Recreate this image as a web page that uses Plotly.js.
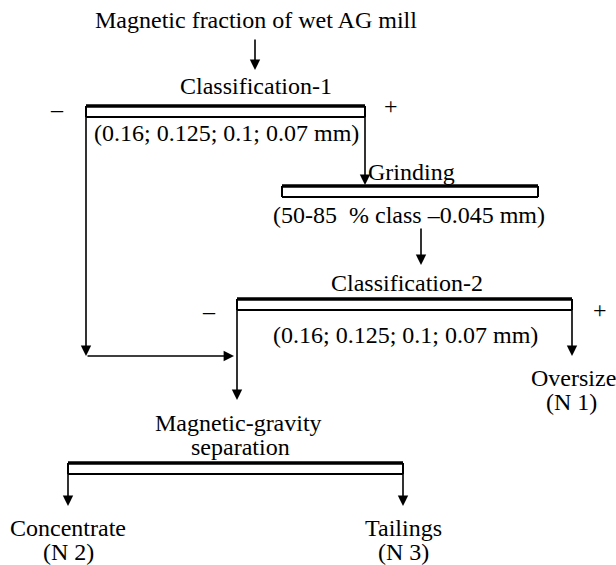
<!DOCTYPE html>
<html>
<head>
<meta charset="utf-8">
<script src="https://cdn.plot.ly/plotly-3.0.1.min.js"></script>
<style>html,body{margin:0;padding:0;background:#fff;}#chart{width:616px;height:565px;}</style>
</head>
<body>
<div id="chart"></div>
<script>
// ---- content (text) ----
const textLabels = [
  "Magnetic fraction of wet AG mill",
  "Classification-1",
  "(0.16; 0.125; 0.1; 0.07 mm)",
  "Grinding",
  "(50-85\u00a0\u00a0% class \u20130.045 mm)",
  "Classification-2",
  "(0.16; 0.125; 0.1; 0.07 mm)",
  "Oversize",
  "(N 1)",
  "Magnetic-gravity",
  "separation",
  "Concentrate",
  "(N 2)",
  "Tailings",
  "(N 3)"
];
const signLabels = ["\u2013", "+", "\u2013", "+"];

// ---- layout of the diagram (positions in plot units) ----
const textX = [256, 256, 226, 411, 409, 407, 405, 573, 571, 238, 240, 68, 68, 403, 403];
const textY = [20, 86, 133, 172, 215, 283, 335, 378, 402, 423, 447, 528, 552, 528, 552];
const signX = [57, 391, 209, 600];
const signY = [109, 106, 311, 310];

// separator units: [xLeft, xRight, yThick, yThin]
const units = [
  [86, 365, 106, 117],
  [282, 538, 186, 197],
  [237, 572, 299, 310],
  [68, 403, 463, 474]
];
// arrows: [xTail, yTail, xTip, yTip]
const arrows = [
  [255, 38, 255, 70],
  [365, 106, 365, 185],
  [421, 227, 421, 265],
  [86, 106, 86, 356],
  [86, 356, 234, 356],
  [237, 299, 237, 400],
  [572, 299, 572, 356],
  [68, 463, 68, 506],
  [403, 463, 403, 506]
];

const FONT = {family: "\"Liberation Serif\", \"Times New Roman\", Times, serif", size: 24, color: "#000"};

const shapes = [];
units.forEach(u => {
  shapes.push({type: "line", xref: "x", yref: "y", x0: u[0], x1: u[1], y0: u[2], y1: u[2], line: {color: "#000", width: 3.5}});
  shapes.push({type: "line", xref: "x", yref: "y", x0: u[0], x1: u[1], y0: u[3], y1: u[3], line: {color: "#000", width: 2}});
  shapes.push({type: "line", xref: "x", yref: "y", x0: u[0], x1: u[0], y0: u[2], y1: u[3], line: {color: "#000", width: 2}});
  shapes.push({type: "line", xref: "x", yref: "y", x0: u[1], x1: u[1], y0: u[2], y1: u[3], line: {color: "#000", width: 2}});
});

const annotations = [];
textLabels.forEach((t, i) => {
  annotations.push({x: textX[i], y: textY[i], xref: "x", yref: "y", text: t, showarrow: false,
    font: FONT, xanchor: "center", yanchor: "middle", borderpad: 0});
});
signLabels.forEach((t, i) => {
  annotations.push({x: signX[i], y: signY[i], xref: "x", yref: "y", text: t, showarrow: false,
    font: FONT, xanchor: "center", yanchor: "middle", borderpad: 0});
});
arrows.forEach(a => {
  annotations.push({x: a[2], y: a[3], ax: a[0], ay: a[1], xref: "x", yref: "y", axref: "x", ayref: "y",
    text: "", showarrow: true, arrowhead: 2, arrowsize: 1.3, arrowwidth: 1.6, arrowcolor: "#000", standoff: 0, startstandoff: 0});
});

const layout = {
  width: 616, height: 565,
  margin: {l: 0, r: 0, t: 0, b: 0},
  font: FONT,
  paper_bgcolor: "#fff", plot_bgcolor: "#fff",
  xaxis: {range: [0, 616], visible: false, fixedrange: true},
  yaxis: {range: [565, 0], visible: false, fixedrange: true},
  showlegend: false,
  shapes: shapes,
  annotations: annotations
};

Plotly.newPlot("chart", [{x: [], y: [], type: "scatter", mode: "markers"}], layout, {staticPlot: true, displayModeBar: false});
</script>
</body>
</html>
